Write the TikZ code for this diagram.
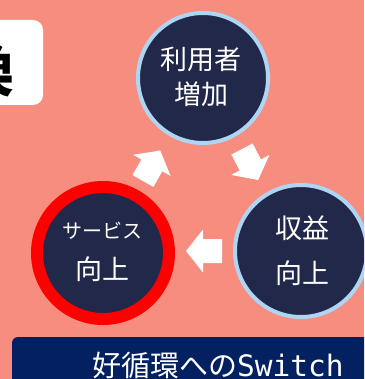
\documentclass[tikz,border=0pt]{standalone}
\usepackage{fontspec}
\newfontfamily\jp{Noto Sans CJK JP}
\newfontfamily\jpmono{DejaVu Sans Mono}
\definecolor{bg}{HTML}{F68D7F}
\definecolor{navy}{HTML}{222849}
\definecolor{lblue}{HTML}{ADD6F5}
\definecolor{boxnavy}{HTML}{032060}
\definecolor{ringred}{HTML}{FF0000}
\tikzset{
  cyc/.style={circle, fill=navy, draw=lblue, line width=4pt, inner sep=0pt},
  lbl/.style={anchor=base, inner sep=0pt, text=white, font=\jp\fontsize{27}{27}\selectfont},
  lblsmall/.style={anchor=base, inner sep=0pt, text=white, font=\jp\fontsize{20}{20}\selectfont},
  blockarrow/.style={fill=white}
}
\newcommand{\blkarrow}[3]{%
  \fill[blockarrow, shift={#1}, rotate=#2]
    (0,-12) -- (#3-17,-12) -- (#3-17,-21.5) -- (#3,0) -- (#3-17,21.5) -- (#3-17,12) -- (0,12) -- cycle;}
\begin{document}
\begin{tikzpicture}[x=1pt,y=-1pt]
\useasboundingbox (0,0) rectangle (364,379);
\clip (0,0) rectangle (364,379);
\fill[bg] (0,0) rectangle (364,379);
% top-left title box (cut off)
\fill[white, rounded corners=10pt] (-30,20) rectangle (43,105);
\node[anchor=base east, inner sep=0pt, font=\jp\bfseries\fontsize{60}{60}\selectfont] (title) at (15,92) {変換};
% circles
\node[cyc, minimum size=130pt] (top) at (203,78) {};
\node[cyc, draw=ringred, line width=12pt, minimum size=132pt] (left) at (103,253) {};
\node[cyc, minimum size=132pt] (right) at (301,251) {};
% circle texts
\node[lbl] (t1) at (201,70) {利用者};
\node[lbl] (t2) at (201,105) {増加};
\node[lblsmall] (l1) at (102.5,238) {サービス};
\node[lbl] (l2) at (102.5,279) {向上};
\node[lbl] (r1) at (302,238) {収益};
\node[lbl] (r2) at (302,283) {向上};
% block arrows
\blkarrow{(143,181)}{60.5}{35}
\blkarrow{(242,149)}{-62.5}{35}
\blkarrow{(222,251)}{180}{36}
% bottom banner
\fill[boxnavy, rounded corners=6pt] (12,337) rectangle (420,420);
\node[anchor=base west, inner sep=0pt, text=white, font=\jp\fontsize{29}{29}\selectfont] (banner) at (92,376) {好循環への{\jpmono\fontsize{29.5}{29}\selectfont Switch}};
\end{tikzpicture}
\end{document}
